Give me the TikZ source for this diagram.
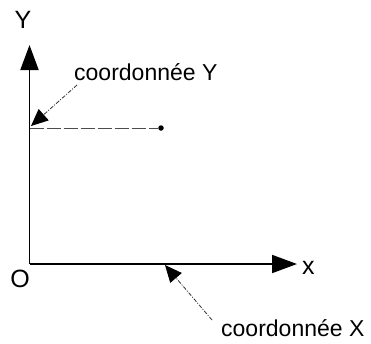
\documentclass[tikz,border=0pt]{standalone}
\usepackage{fontspec}
\setmainfont{Liberation Sans}
\usetikzlibrary{arrows.meta}
\begin{document}
\begin{tikzpicture}[x=1pt,y=-1pt,
  axis/.style={line width=1.9pt,-{Triangle[length=25pt,width=18pt]}},
  callout/.style={line width=0.8pt,draw=black!80,dash pattern=on 4pt off 1.5pt on 1pt off 1.5pt,-{Triangle[length=17pt,width=15pt,color=black]}},
  guide/.style={line width=1pt,draw=black!70,dash pattern=on 14pt off 3pt},
  axlabel/.style={font=\fontsize{25}{25}\selectfont,inner sep=0pt},
  lab/.style={font=\fontsize{23}{23}\selectfont,inner sep=0pt}]
\useasboundingbox (0,0) rectangle (371,343);
\coordinate (O) at (29.5,264);
\coordinate (ytip) at (29.5,45);
\coordinate (xtip) at (297,264);
\coordinate (yc) at (29.5,128);
\node[circle,fill,inner sep=0pt,minimum size=5.5pt] (P) at (161,128) {};
\draw[axis] (O) -- (ytip);
\draw[axis] (O) -- (xtip);
\draw[guide] (yc) -- (P);
\node[axlabel] (Ylab) at (23,20) {Y};
\node[axlabel] (Olab) at (20,279) {O};
\node[axlabel,anchor=west] (xlab) at (302,268) {x};
\node[lab,anchor=west] (cY) at (74,72) {coordonnée Y};
\node[lab,anchor=west] (cX) at (221,328) {coordonnée X};
\coordinate (cYs) at (77,85);
\coordinate (cYt) at (31,126);
\coordinate (cXs) at (212,320);
\coordinate (cXt) at (165,265);
\draw[callout] (cYs) -- (cYt);
\draw[callout] (cXs) -- (cXt);
\end{tikzpicture}
\end{document}
